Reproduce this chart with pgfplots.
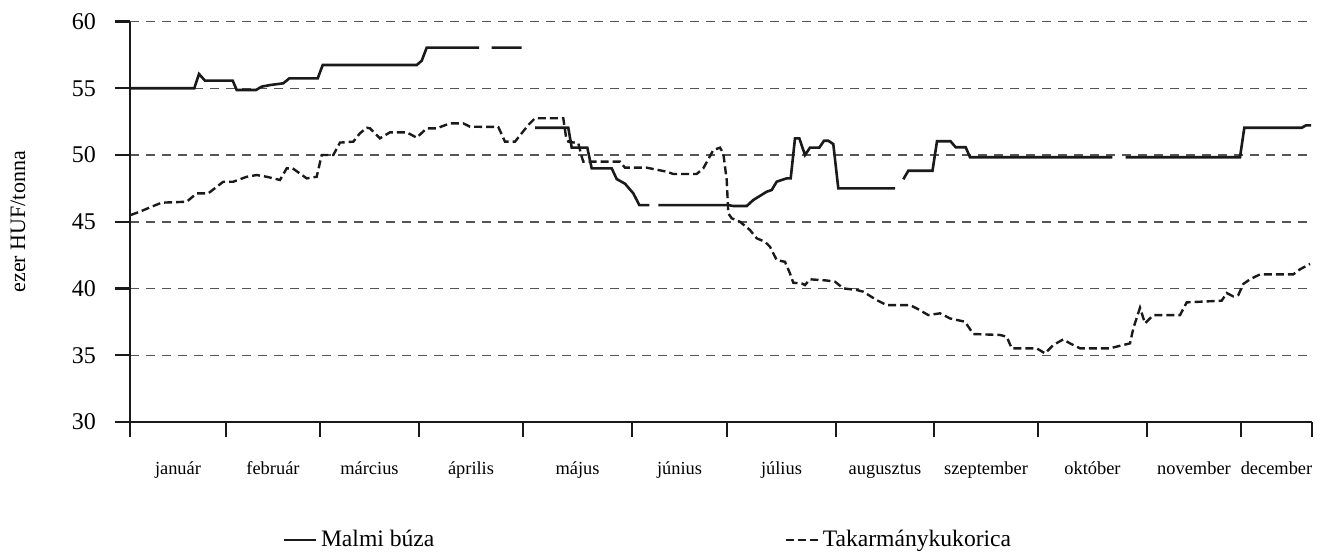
\documentclass[border=0pt]{standalone}
\usepackage{fontspec}
\setmainfont{Liberation Serif}
\usepackage{pgfplots}
\pgfplotsset{compat=1.18}
\definecolor{ink}{HTML}{1A1A1A}
\definecolor{gridc}{HTML}{555555}
\begin{document}
\begin{tikzpicture}
\path[use as bounding box] (-65pt,-66pt) rectangle (596.5pt,211pt);
\begin{axis}[
  at={(0,0)}, anchor=south west,
  scale only axis, width=591pt, height=200.25pt,
  xmin=130, xmax=1312, ymin=30, ymax=60,
  axis lines=left, axis line style={-, line width=1.2pt, ink},
  tick align=outside, major tick length=7.5pt,
  tick style={line width=1.2pt, ink},
  ytick={30,35,40,45,50,55,60},
  xtick={130,226,320,419,523,632,727,836,934,1038,1147,1241,1312},
  xticklabels={január,február,március,április,május,június,július,augusztus,szeptember,október,november,december},
  x tick label as interval,
  /pgf/number format/assume math mode=true,
  yticklabel style={font=\fontsize{12}{14}\selectfont, xshift=-6pt},
  xticklabel style={font=\fontsize{9.2}{11}\selectfont, text height=1.6ex, text depth=0.4ex, yshift=-8pt},
  ymajorgrids, grid style={gridc, line width=0.75pt, dash pattern=on 4.5pt off 3.5pt},
  every axis y label/.style={at={(axis description cs:-0.0948,0.5)}, rotate=90, anchor=center},
  ylabel={ezer HUF/tonna}, ylabel style={font=\fontsize{11}{13}\selectfont},
  unbounded coords=jump,
  legend columns=2,
  legend style={at={(rel axis cs:0.1286,-0.2946)}, anchor=west, draw=none, inner sep=0pt, font=\fontsize{11.8}{14}\selectfont,
    /tikz/every even column/.append style={column sep=173pt}},
  legend cell align=left,
  legend image code/.code={\draw[#1] (0pt,0pt) -- (16pt,0pt);},
]
\addplot[ink, line width=1.3pt] table {
130.5 55.0
194.3 55.0
199 56.07
205 55.57
232.7 55.57
236.7 54.87
256 54.87
261.7 55.12
270 55.24
283.3 55.37
289.3 55.74
317.7 55.74
322.7 56.74
416.7 56.74
421.7 57.06
426.7 58.04
479 58.04
480 nan
491.7 58.04
521.7 58.04
522 nan
535 52.04
568.3 52.04
571.7 50.55
587.3 50.55
591.7 49.0
611.7 49.0
616.7 48.2
625 47.85
633.3 47.13
639.3 46.25
649.3 46.25
650 nan
658.3 46.25
728.3 46.25
733.3 46.18
746.7 46.18
753.3 46.63
766.7 47.25
771.7 47.38
776.7 48.0
781.7 48.13
786.7 48.25
790.7 48.25
795 51.25
799.3 51.25
805 50.0
810 50.55
819.3 50.55
824 51.07
828.3 51.07
833.3 50.82
838.3 47.5
895 47.5
896 nan
903.3 48.18
908.3 48.82
932.5 48.82
937 51.03
950.5 51.03
955.7 50.58
965.7 50.58
970 49.83
1112.3 49.83
1113 nan
1125.7 49.83
1240 49.83
1244.3 52.04
1301.7 52.04
1306 52.22
1311 52.22
};
\addlegendentry{Malmi búza}
\addplot[ink, line width=1.2pt, dash pattern=on 4pt off 2pt] table {
130.5 45.5
140 45.76
151.7 46.13
161.7 46.43
186.7 46.5
196.7 47.13
208.3 47.13
223.3 48.0
233.3 48.0
246.7 48.37
256.7 48.5
266.7 48.37
280 48.13
286.7 49.0
292.7 49.0
306.7 48.25
316.7 48.37
321.7 50.0
333.3 50.0
340 50.93
353.3 51.0
360 51.63
366.7 52.04
370 52.0
380 51.25
390 51.7
406.7 51.7
416.7 51.3
426.7 52.0
436.7 52.0
450 52.37
463.3 52.37
470 52.12
498.3 52.1
505 51.0
515 51.0
528.3 52.25
535 52.75
563.3 52.75
566 51.37
568.3 51.0
578.3 50.88
581.7 49.88
583.3 49.5
620 49.5
625 49.05
646.7 49.05
666.7 48.75
673.3 48.58
696.7 48.58
703.3 49.0
713.3 50.37
720 50.55
723.3 50.13
726.7 48.13
728.3 45.63
731.7 45.26
740 45.0
750 44.38
756.7 43.76
765 43.5
770 43.13
776.7 42.13
785 42.0
790 41.13
793.3 40.43
801.7 40.38
805 40.26
810 40.69
826.7 40.6
835 40.51
843.3 40.01
856.7 39.89
863.3 39.76
876.7 39.13
886.7 38.76
910 38.76
916.7 38.51
928.3 38.01
940 38.14
950 37.76
965 37.51
973.3 36.59
1000 36.52
1006.7 36.39
1011.7 35.52
1036.7 35.52
1045 35.14
1053.3 35.77
1063.3 36.19
1070 35.89
1080 35.52
1110 35.52
1120 35.71
1130 35.89
1133.3 37.01
1140 38.56
1145 37.39
1153.3 38.01
1180 38.01
1186.7 38.96
1221.7 39.09
1226.7 39.66
1233.3 39.41
1238.3 39.51
1243.3 40.34
1250 40.69
1260 41.06
1293.3 41.06
1300 41.44
1310 41.84
};
\addlegendentry{Takarmánykukorica}
\end{axis}
\end{tikzpicture}
\end{document}
